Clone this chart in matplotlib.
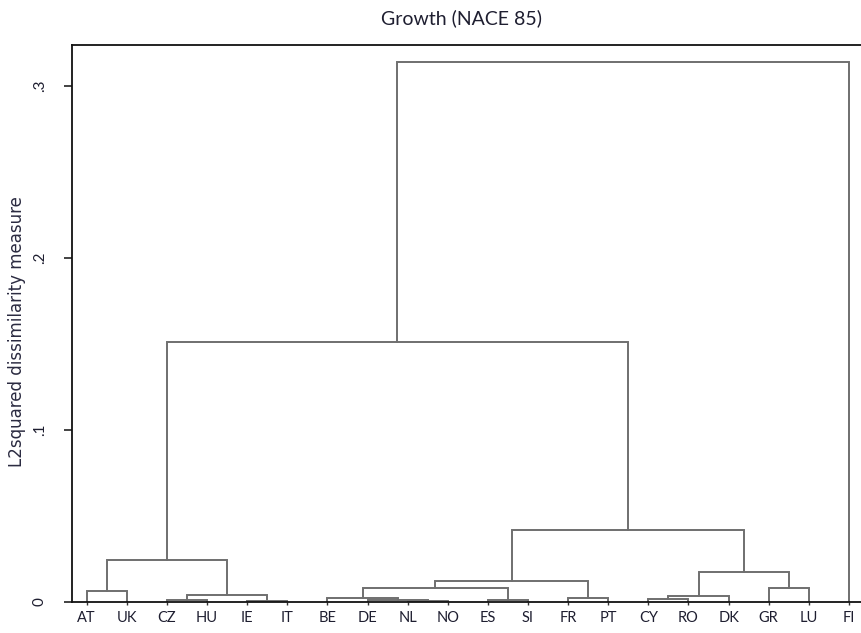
import matplotlib
matplotlib.use("Agg")
import matplotlib.pyplot as plt

# leaves in display order
labels = ["AT", "UK", "CZ", "HU", "IE", "IT", "BE", "DE", "NL", "NO",
          "ES", "SI", "FR", "PT", "CY", "RO", "DK", "GR", "LU", "FI"]

# linkage: node ids 0..19 are leaves, merges create 20, 21, ...
merge_left = [2, 4, 8, 7, 10, 14, 6, 12, 25, 20, 0, 26, 17, 31, 28, 30, 33, 35, 37]
merge_right = [3, 5, 9, 22, 11, 15, 23, 13, 16, 21, 1, 24, 18, 27, 32, 29, 34, 36, 19]
merge_height = [0.0007, 0.0003, 0.0002, 0.0007, 0.0008, 0.0015, 0.0020, 0.0023, 0.0033,
                0.0039, 0.0064, 0.0078, 0.0078, 0.0122, 0.0174, 0.0240, 0.0417, 0.1510, 0.3138]

yticks = [0, 0.1, 0.2, 0.3]
ytick_labels = ["0", ".1", ".2", ".3"]

LINE = "#6f6f6f"
TXT = "#1e1e30"

fig = plt.figure(figsize=(8.61, 6.33), dpi=100)
W, H = 861, 633
ax = fig.add_axes([72 / W, (H - 601.7) / H, (W - 72) / W, (601.7 - 45) / H])

xpos = {i: float(i) for i in range(len(labels))}
ypos = {i: 0.0 for i in range(len(labels))}
n = len(labels)
for k, (a, b, h) in enumerate(zip(merge_left, merge_right, merge_height)):
    xa, xb = xpos[a], xpos[b]
    ax.plot([xa, xa, xb, xb], [ypos[a], h, h, ypos[b]], color=LINE, lw=1.4,
            solid_joinstyle="miter", zorder=2)
    xpos[n + k] = (xa + xb) / 2
    ypos[n + k] = h

ax.set_xlim(-0.366, 19.3)
ax.set_ylim(0, (601.7 - 45) / 1720)

ax.set_xticks(range(n))
ax.set_xticklabels(labels, fontsize=10.5, color=TXT, family="Lato")
ax.set_yticks(yticks)
ax.set_yticklabels(ytick_labels, fontsize=11, color=TXT, family="Lato",
                   rotation=90, va="center")
ax.tick_params(axis="x", length=2.5, width=1, pad=4, color="#333333")
ax.tick_params(axis="y", length=6, width=1.2, pad=12, color="#222222")

for s in ["left", "top", "bottom"]:
    ax.spines[s].set_color("#111111")
    ax.spines[s].set_linewidth(1.3)
ax.spines["right"].set_visible(False)
ax.spines["bottom"].set_zorder(3)

fig.text(17 / W, 1 - 332 / H, "L2squared dissimilarity measure", rotation=90,
         ha="center", va="center", fontsize=12, color="#2a2a40", family="DejaVu Sans")
fig.text(461 / W, 1 - 18 / H, "Growth (NACE 85)", ha="center", va="center",
         fontsize=14, color=TXT, family="Lato")

fig.savefig("out.png", dpi=100)
